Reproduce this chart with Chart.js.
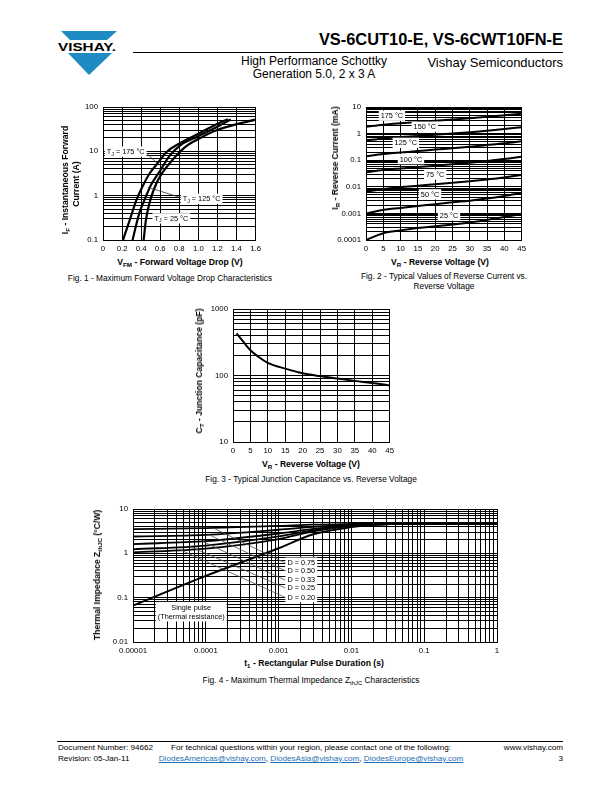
<!DOCTYPE html>
<html>
<head>
<meta charset="utf-8">
<script src="https://cdn.jsdelivr.net/npm/chart.js@4.4.1/dist/chart.umd.min.js"></script>
<style>
body { margin: 0; background: #fff; }
#page { position: relative; width: 612px; height: 792px; overflow: hidden; background: #fff;
        font-family: "Liberation Sans", Arial, Helvetica, sans-serif; color: #000; }
.abs { position: absolute; white-space: nowrap; color: #000; }
.ctr { transform: translateX(-50%); }
.rot { position: absolute; white-space: nowrap; color: #000; transform: translate(-50%, -50%) rotate(-90deg); }
.ax { font-size: 8.6px; font-weight: bold; }
.cap { font-size: 8.3px; }
.sub { font-size: 0.72em; position: relative; top: 0.3em; }
canvas { position: absolute; }
.foot { font-size: 8.1px; }
.lnk { color: #1f6db3; text-decoration: underline; }
</style>
</head>
<body>
<div id="page">
  <svg class="abs" style="left:0;top:0" width="140" height="90">
    <polygon points="61,31 117,31 107,40 70,40" fill="#1e8bc3"/>
    <text x="58" y="51" font-family="Liberation Sans, Arial" font-weight="bold" font-size="11.5" textLength="58" lengthAdjust="spacingAndGlyphs">VISHAY.</text>
    <polygon points="68,53 112,53 89,75" fill="#1e8bc3"/>
  </svg>
  <div class="abs" style="right:49px;top:30px;font-size:16.4px;font-weight:bold;">VS-6CUT10-E, VS-6CWT10FN-E</div>
  <div class="abs" style="left:133px;top:52px;width:430px;height:1px;background:#000;"></div>
  <div class="abs" style="left:314px;top:55px;font-size:12px;text-align:center;transform:translateX(-50%);line-height:13px;">High Performance Schottky<br>Generation 5.0, 2 x 3 A</div>
  <div class="abs" style="right:49px;top:55px;font-size:13px;">Vishay Semiconductors</div>

  <canvas id="fig1" width="195" height="158" style="left:70px;top:97px"></canvas>
  <canvas id="fig2" width="200" height="158" style="left:330px;top:97px"></canvas>
  <canvas id="fig3" width="200" height="158" style="left:198px;top:299px"></canvas>
  <canvas id="fig4" width="412" height="158" style="left:93px;top:499px"></canvas>

  <div class="rot ax" style="left:65px;top:180px">I<span class="sub">F</span> - Instantaneous Forward</div>
  <div class="rot ax" style="left:76px;top:184px">Current (A)</div>
  <div class="abs ax ctr" style="left:180px;top:257px">V<span class="sub">FM</span> - Forward Voltage Drop (V)</div>
  <div class="abs cap ctr" style="left:170px;top:273px">Fig. 1 - Maximum Forward Voltage Drop Characteristics</div>

  <div class="rot ax" style="left:335px;top:158px">I<span class="sub">R</span> - Reverse Current (mA)</div>
  <div class="abs ax ctr" style="left:440px;top:257px">V<span class="sub">R</span> - Reverse Voltage (V)</div>
  <div class="abs cap ctr" style="left:444px;top:271px;text-align:center;line-height:10px">Fig. 2 - Typical Values of Reverse Current vs.<br>Reverse Voltage</div>

  <div class="rot ax" style="left:199px;top:371px">C<span class="sub">T</span> - Junction Capacitance (pF)</div>
  <div class="abs ax ctr" style="left:311px;top:459px">V<span class="sub">R</span> - Reverse Voltage (V)</div>
  <div class="abs cap ctr" style="left:311px;top:474px">Fig. 3 - Typical Junction Capacitance vs. Reverse Voltage</div>

  <div class="rot ax" style="left:97px;top:575px">Thermal Impedance Z<span class="sub">thJC</span> (°C/W)</div>
  <div class="abs ax ctr" style="left:314px;top:658px">t<span class="sub">1</span> - Rectangular Pulse Duration (s)</div>
  <div class="abs cap ctr" style="left:311px;top:675px">Fig. 4 - Maximum Thermal Impedance Z<span class="sub">thJC</span> Characteristics</div>

  <div class="abs" style="left:57px;top:741px;width:506px;height:1px;background:#000;"></div>
  <div class="abs foot" style="left:58px;top:742px;line-height:11px">Document Number: 94662<br>Revision: 05-Jan-11</div>
  <div class="abs foot" style="left:311px;top:742px;line-height:11px;text-align:center;transform:translateX(-50%)">For technical questions within your region, please contact one of the following:<br><span class="lnk">DiodesAmericas@vishay.com</span>, <span class="lnk">DiodesAsia@vishay.com</span>, <span class="lnk">DiodesEurope@vishay.com</span></div>
  <div class="abs foot" style="right:49px;top:742px;line-height:11px;text-align:right">www.vishay.com<br>3</div>
</div>

<script>
// ---- Fig. 1: forward voltage drop (V) vs forward current (A)
const fwdV175 = [0.21, 0.28, 0.35, 0.42, 0.49, 0.57, 0.67, 0.80, 0.97, 1.19, 1.31];
const fwdI175 = [0.1, 0.28, 0.79, 1.7, 3.2, 5.3, 9.8, 15, 23, 41, 53];
const fwdV125 = [0.31, 0.38, 0.434, 0.50, 0.59, 0.70, 0.81, 1.0, 1.19, 1.34];
const fwdI125 = [0.1, 0.4, 0.79, 1.7, 3.4, 8, 13.7, 22, 35, 52];
const fwdV25 = [0.426, 0.45, 0.485, 0.537, 0.606, 0.726, 0.864, 1.0, 1.19, 1.4, 1.6];
const fwdI25 = [0.1, 0.28, 0.66, 1.45, 2.9, 6.3, 12.6, 19, 30, 41, 52];
const fig1XTicks = ['0', '0.2', '0.4', '0.6', '0.8', '1.0', '1.2', '1.4', '1.6'];
const fig1YTicks = ['0.1', '1', '10', '100'];

// ---- Fig. 2: reverse current (mA) vs reverse voltage (V)
const revV = [0, 5, 10, 15, 20, 25, 30, 35, 40, 45];
const revI175 = [1.8, 2.15, 2.45, 2.75, 3.05, 3.4, 3.8, 4.3, 4.9, 5.6];
const revI150 = [0.55, 0.66, 0.74, 0.82, 0.9, 1.0, 1.12, 1.27, 1.48, 1.75];
const revI125 = [0.14, 0.17, 0.195, 0.22, 0.25, 0.28, 0.32, 0.37, 0.43, 0.52];
const revI100 = [0.035, 0.043, 0.049, 0.055, 0.062, 0.07, 0.08, 0.093, 0.11, 0.135];
const revI75 = [0.0065, 0.0083, 0.0097, 0.011, 0.0125, 0.0142, 0.0163, 0.019, 0.0225, 0.028];
const revI50 = [0.001, 0.00135, 0.0016, 0.0019, 0.0022, 0.0026, 0.003, 0.0036, 0.0045, 0.0058];
const revI25 = [0.0001, 0.00018, 0.00023, 0.00028, 0.00033, 0.00038, 0.00046, 0.00057, 0.00073, 0.00095];
const voltTicks = ['0', '5', '10', '15', '20', '25', '30', '35', '40', '45'];
const fig2YTicks = ['0.0001', '0.001', '0.01', '0.1', '1', '10'];

// ---- Fig. 3: junction capacitance (pF) vs reverse voltage (V)
const capV = [1, 3, 5, 7.5, 10, 15, 20, 25, 30, 35, 40, 45];
const capC = [430, 320, 240, 188, 155, 127, 108, 98, 90, 83, 77, 71];
const fig3YTicks = ['10', '100', '1000'];

// ---- Fig. 4: thermal impedance (°C/W) vs pulse duration (s)
const pulseT = [1e-5, 1e-4, 1e-3, 3e-3, 1e-2, 2e-2, 6e-2, 1];
const zthSingle = [0.066, 0.31, 1.3, 2.7, 3.9, 4.4, 4.65, 4.7];
const zthD75 = [3.5, 3.7, 4.15, 4.45, 4.6, 4.65, 4.68, 4.7];
const zthD50 = [2.4, 2.62, 3.4, 3.95, 4.45, 4.58, 4.66, 4.7];
const zthD33 = [1.62, 1.88, 2.8, 3.55, 4.3, 4.5, 4.65, 4.7];
const zthD25 = [1.23, 1.5, 2.4, 3.3, 4.2, 4.47, 4.65, 4.7];
const zthD20 = [1.05, 1.28, 2.1, 3.15, 4.15, 4.45, 4.65, 4.7];
const fig4XTicks = ['0.00001', '0.0001', '0.001', '0.01', '0.1', '1'];
const fig4YTicks = ['0.01', '0.1', '1', '10'];

const FONT = '"Liberation Sans", Arial, sans-serif';
const TICK_SIZE = 7.8;

function pts(xs, ys) {
    return xs.map((x, i) => ({ x: x, y: ys[i] }));
}

// grid values 1..9 per decade
function logGrid(min, max) {
    const out = [];
    for (let e = Math.round(Math.log10(min)); e < Math.round(Math.log10(max)); e++) {
        for (let k = 1; k < 10; k++) out.push(parseFloat((k * Math.pow(10, e)).toPrecision(6)));
    }
    out.push(max);
    return out;
}

function isDecade(v) {
    const l = Math.log10(v);
    return Math.abs(l - Math.round(l)) < 1e-6;
}

// log value interpolation along a curve (used to hook leader lines onto curves)
function onCurve(xs, ys, x) {
    for (let i = 0; i < xs.length - 1; i++) {
        if (x >= xs[i] && x <= xs[i + 1]) {
            const f = (Math.log10(x) - Math.log10(xs[i])) / (Math.log10(xs[i + 1]) - Math.log10(xs[i]));
            return Math.pow(10, Math.log10(ys[i]) + f * (Math.log10(ys[i + 1]) - Math.log10(ys[i])));
        }
    }
    return ys[0];
}

function curve(data, width) {
    return {
        data: data,
        borderColor: '#000',
        borderWidth: width || 2,
        pointRadius: 0,
        fill: false,
        cubicInterpolationMode: 'monotone'
    };
}

function gridOpts() {
    return { color: '#000', lineWidth: 1, drawTicks: false };
}

function linAxis(min, max, step, labels, height) {
    return {
        type: 'linear', min: min, max: max,
        grid: gridOpts(),
        border: { display: true, color: '#000', width: 1 },
        ticks: {
            stepSize: step, padding: 4, color: '#000', maxRotation: 0, autoSkip: false,
            font: { family: FONT, size: TICK_SIZE },
            callback: (v, i) => labels[i]
        },
        afterFit: (s) => { s.height = height; }
    };
}

function logAxis(min, max, labels, size, horizontal) {
    const ax = {
        type: 'logarithmic', min: min, max: max,
        grid: gridOpts(),
        border: { display: true, color: '#000', width: 1 },
        afterBuildTicks: (s) => { s.ticks = logGrid(min, max).map(v => ({ value: v })); },
        ticks: {
            padding: horizontal ? 4 : 5, color: '#000', maxRotation: 0, autoSkip: false,
            font: { family: FONT, size: TICK_SIZE },
            callback: (v) => isDecade(v) ? labels[Math.round(Math.log10(v) - Math.log10(min))] : ''
        }
    };
    if (horizontal) ax.afterFit = (s) => { s.height = size; };
    else ax.afterFit = (s) => { s.width = size; };
    return ax;
}

function yLogAxis(min, max, labels, width) {
    return logAxis(min, max, labels, width, false);
}

// labels with white boxes, subscripts ("_" prefix) and leader lines
function drawParts(ctx, parts, x, y, size) {
    let cx = x;
    parts.forEach(p => {
        const sub = p.charAt(0) === '_';
        const s = sub ? p.slice(1) : p;
        ctx.font = (sub ? size * 0.72 : size) + 'px ' + FONT;
        ctx.fillText(s, cx, sub ? y + size * 0.3 : y);
        cx += ctx.measureText(s).width;
    });
}
function partsWidth(ctx, parts, size) {
    let w = 0;
    parts.forEach(p => {
        const sub = p.charAt(0) === '_';
        const s = sub ? p.slice(1) : p;
        ctx.font = (sub ? size * 0.72 : size) + 'px ' + FONT;
        w += ctx.measureText(s).width;
    });
    return w;
}

const notesPlugin = {
    id: 'notes',
    afterDatasetsDraw(chart, args, opts) {
        const ctx = chart.ctx;
        const xs = chart.scales.x, ys = chart.scales.y;
        const size = opts.size || 7;
        ctx.save();
        (opts.leaders || []).forEach(l => {
            ctx.beginPath();
            ctx.strokeStyle = opts.leaderColor || '#333';
            ctx.lineWidth = 0.8;
            ctx.moveTo(xs.getPixelForValue(l[0]), ys.getPixelForValue(l[1]));
            ctx.lineTo(xs.getPixelForValue(l[2]), ys.getPixelForValue(l[3]));
            ctx.stroke();
        });
        (opts.items || []).forEach(it => {
            const px = xs.getPixelForValue(it.x), py = ys.getPixelForValue(it.y);
            const lh = size + 2;
            const widths = it.lines.map(l => partsWidth(ctx, l, size));
            const w = Math.max.apply(null, widths);
            const h = it.lines.length * lh;
            const left = it.align === 'center' ? px - w / 2 : px;
            ctx.fillStyle = '#fff';
            ctx.fillRect(left - 2, py - h / 2 - 1, w + 4, h + 1);
            ctx.fillStyle = '#000';
            ctx.textBaseline = 'middle';
            ctx.textAlign = 'left';
            it.lines.forEach((l, i) => {
                const lx = it.align === 'center' ? px - widths[i] / 2 : px;
                drawParts(ctx, l, lx, py - h / 2 + lh * (i + 0.5), size);
            });
        });
        ctx.restore();
    }
};

function baseOptions(pad) {
    return {
        responsive: false,
        animation: false,
        events: [],
        layout: { padding: pad },
        plugins: { legend: { display: false }, tooltip: { enabled: false } }
    };
}

// ---------- Fig. 1
const opt1 = baseOptions({ top: 10, right: 7, left: 0, bottom: 0 });
opt1.scales = {
    x: linAxis(0, 1.6, 0.2, fig1XTicks, 15),
    y: yLogAxis(0.1, 100, fig1YTicks, 33)
};
opt1.plugins.notes = {
    size: 7.3,
    leaders: [[0.46, 8.9, 0.571, 5.3], [0.81, 0.91, 0.47, 1.55]],
    items: [
        { x: 0.04, y: 9.6, lines: [['T', '_J', ' = 175 °C']] },
        { x: 0.836, y: 0.83, lines: [['T', '_J', ' = 125 °C']] },
        { x: 0.54, y: 0.3, lines: [['T', '_J', ' = 25 °C']] }
    ]
};
new Chart(document.getElementById('fig1'), {
    type: 'line',
    data: { datasets: [
        curve(pts(fwdV175, fwdI175), 2.2),
        curve(pts(fwdV125, fwdI125), 2.2),
        curve(pts(fwdV25, fwdI25), 2.2)
    ] },
    options: opt1,
    plugins: [notesPlugin]
});

// ---------- Fig. 2
const opt2 = baseOptions({ top: 10, right: 8, left: 0, bottom: 0 });
opt2.scales = {
    x: linAxis(0, 45, 5, voltTicks, 15),
    y: yLogAxis(0.0001, 10, fig2YTicks, 36)
};
opt2.plugins.notes = {
    size: 7.3,
    items: [
        { x: 7.5, y: 4.5, align: 'center', lines: [['175 °C']] },
        { x: 17, y: 1.74, align: 'center', lines: [['150 °C']] },
        { x: 11.5, y: 0.43, align: 'center', lines: [['125 °C']] },
        { x: 13, y: 0.105, align: 'center', lines: [['100 °C']] },
        { x: 20, y: 0.0275, align: 'center', lines: [['75 °C']] },
        { x: 18.5, y: 0.005, align: 'center', lines: [['50 °C']] },
        { x: 24, y: 0.0008, align: 'center', lines: [['25 °C']] }
    ]
};
new Chart(document.getElementById('fig2'), {
    type: 'line',
    data: { datasets: [
        curve(pts(revV, revI175)), curve(pts(revV, revI150)), curve(pts(revV, revI125)),
        curve(pts(revV, revI100)), curve(pts(revV, revI75)), curve(pts(revV, revI50)),
        curve(pts(revV, revI25))
    ] },
    options: opt2,
    plugins: [notesPlugin]
});

// ---------- Fig. 3
const opt3 = baseOptions({ top: 10, right: 8, left: 0, bottom: 0 });
opt3.scales = {
    x: linAxis(0, 45, 5, voltTicks, 15),
    y: yLogAxis(10, 1000, fig3YTicks, 35)
};
new Chart(document.getElementById('fig3'), {
    type: 'line',
    data: { datasets: [curve(pts(capV, capC), 2)] },
    options: opt3
});

// ---------- Fig. 4
const opt4 = baseOptions({ top: 10, right: 8, left: 0, bottom: 0 });
opt4.scales = {
    x: logAxis(0.00001, 1, fig4XTicks, 15, true),
    y: yLogAxis(0.01, 10, fig4YTicks, 40)
};
const dCurves = [zthD75, zthD50, zthD33, zthD25, zthD20];
const dNames = ['D = 0.75', 'D = 0.50', 'D = 0.33', 'D = 0.25', 'D = 0.20'];
const dLabelZ = [0.60, 0.40, 0.245, 0.165, 0.10];
const dLeaderT = [1.26e-4, 1.1e-4, 9e-5, 6e-5, 4.5e-5];
opt4.plugins.notes = {
    size: 7.3,
    leaderColor: '#555',
    leaders: dCurves.map((c, i) => [dLeaderT[i], onCurve(pulseT, c, dLeaderT[i]), 1.25e-3, dLabelZ[i]]),
    items: dNames.map((n, i) => ({ x: 1.32e-3, y: dLabelZ[i], lines: [[n]] })).concat([
        { x: 6.3e-5, y: 0.047, align: 'center', lines: [['Single pulse'], ['(Thermal resistance)']] }
    ])
};
new Chart(document.getElementById('fig4'), {
    type: 'line',
    data: { datasets: [
        curve(pts(pulseT, zthSingle), 2),
        curve(pts(pulseT, zthD75), 1.8), curve(pts(pulseT, zthD50), 1.8), curve(pts(pulseT, zthD33), 1.8),
        curve(pts(pulseT, zthD25), 1.8), curve(pts(pulseT, zthD20), 1.8)
    ] },
    options: opt4,
    plugins: [notesPlugin]
});
</script>
</body>
</html>
